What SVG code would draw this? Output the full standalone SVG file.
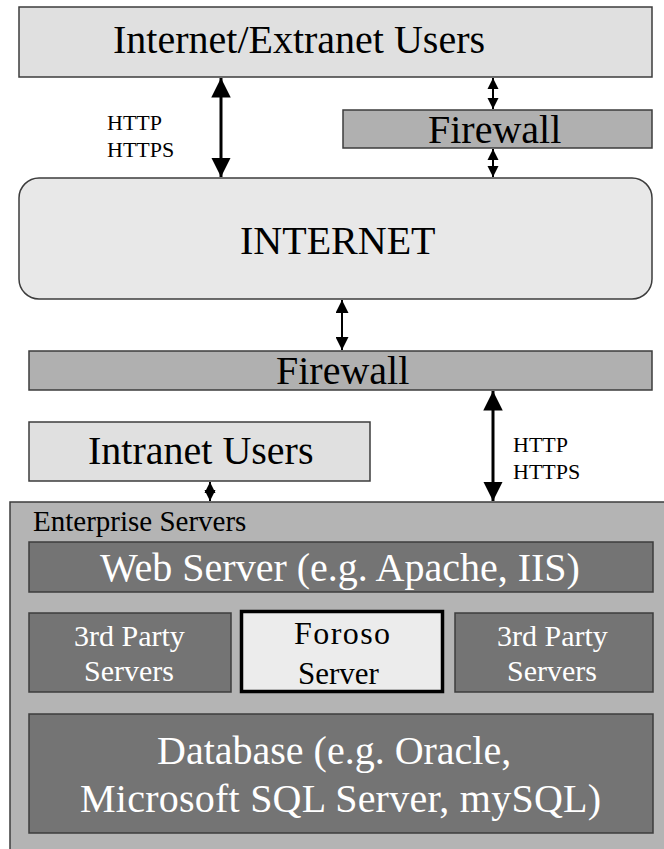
<svg xmlns="http://www.w3.org/2000/svg" width="664" height="849" viewBox="0 0 664 849" font-family="Liberation Serif, serif">
  <style>
    .box { stroke: #3c3c3c; stroke-width: 1.5; }
    .light { fill: #e0e0e0; }
    .cloud { fill: #e8e8e8; }
    .fw { fill: #b0b0b0; }
    .ent { fill: #b4b4b4; }
    .dark { fill: #747474; }
    .w { fill: #ffffff; }
    .conn { stroke: #000; stroke-width: 3; fill: none; }
    .conn-s { stroke: #000; stroke-width: 2; fill: none; }
  </style>
  <defs>
    <marker id="head" viewBox="0 0 10 10" refX="10" refY="5" markerWidth="6.5" markerHeight="6.5" markerUnits="strokeWidth" orient="auto-start-reverse">
      <path d="M0,0 L10,5 L0,10 Z" fill="#000"/>
    </marker>
    <marker id="head-s" viewBox="0 0 10 10" refX="10" refY="5" markerWidth="5.5" markerHeight="6" markerUnits="strokeWidth" orient="auto-start-reverse">
      <path d="M0,0 L10,5 L0,10 Z" fill="#000"/>
    </marker>
  </defs>

  <rect width="664" height="849" fill="#ffffff"/>

  <g id="internet-users">
    <rect class="box light" x="19" y="7" width="633" height="70"/>
    <text x="113" y="53" font-size="40">Internet/Extranet Users</text>
  </g>

  <g id="firewall-outer">
    <rect class="box fw" x="343" y="110" width="309" height="38"/>
    <text x="428" y="143" font-size="40">Firewall</text>
  </g>

  <g id="internet">
    <rect class="box cloud" x="19" y="178" width="633" height="121" rx="20" ry="20"/>
    <text x="240" y="254" font-size="40">INTERNET</text>
  </g>

  <g id="firewall-inner">
    <rect class="box fw" x="29" y="351" width="623" height="39"/>
    <text x="276" y="384" font-size="40">Firewall</text>
  </g>

  <g id="intranet-users">
    <rect class="box light" x="29" y="422" width="341" height="59"/>
    <text x="88" y="464" font-size="40">Intranet Users</text>
  </g>

  <g id="enterprise-servers">
    <rect class="box ent" x="10" y="502" width="660" height="360"/>
    <text x="33" y="531" font-size="29">Enterprise Servers</text>
  </g>

  <g id="web-server">
    <rect class="box dark" x="29" y="542" width="624" height="50"/>
    <text class="w" x="100" y="581" font-size="40">Web Server (e.g. Apache, IIS)</text>
  </g>

  <g id="third-party-left">
    <rect class="box dark" x="29" y="613" width="202" height="79"/>
    <text class="w" x="74" y="646" font-size="30">3rd Party</text>
    <text class="w" x="84" y="681" font-size="30">Servers</text>
  </g>

  <g id="foroso-server">
    <rect x="241.5" y="611.5" width="201" height="80" fill="#ececec" stroke="#000" stroke-width="3.5"/>
    <text x="294" y="644" font-size="32" textLength="96" lengthAdjust="spacing">Foroso</text>
    <text x="298" y="684" font-size="31">Server</text>
  </g>

  <g id="third-party-right">
    <rect class="box dark" x="455" y="613" width="198" height="79"/>
    <text class="w" x="497" y="646" font-size="30">3rd Party</text>
    <text class="w" x="507" y="681" font-size="30">Servers</text>
  </g>

  <g id="database">
    <rect class="box dark" x="29" y="714" width="624" height="119"/>
    <text class="w" x="157" y="764" font-size="40">Database (e.g. Oracle,</text>
    <text class="w" x="80" y="812" font-size="40" textLength="521" lengthAdjust="spacing">Microsoft SQL Server, mySQL)</text>
  </g>

  <g id="labels">
    <text x="107" y="130" font-size="22">HTTP</text>
    <text x="107" y="157" font-size="22">HTTPS</text>
    <text x="513" y="452" font-size="22">HTTP</text>
    <text x="513" y="479" font-size="22">HTTPS</text>
  </g>

  <g id="connectors">
    <line class="conn" x1="221" y1="78" x2="221" y2="177" marker-start="url(#head)" marker-end="url(#head)"/>
    <line class="conn-s" x1="493" y1="78" x2="493" y2="109" marker-start="url(#head-s)" marker-end="url(#head-s)"/>
    <line class="conn-s" x1="493" y1="149" x2="493" y2="177" marker-start="url(#head-s)" marker-end="url(#head-s)"/>
    <line class="conn-s" x1="342" y1="300" x2="342" y2="350" marker-start="url(#head)" marker-end="url(#head)"/>
    <line class="conn" x1="493" y1="391" x2="493" y2="501" marker-start="url(#head)" marker-end="url(#head)"/>
    <line class="conn-s" x1="210" y1="482" x2="210" y2="501" marker-start="url(#head-s)" marker-end="url(#head-s)"/>
  </g>
</svg>
